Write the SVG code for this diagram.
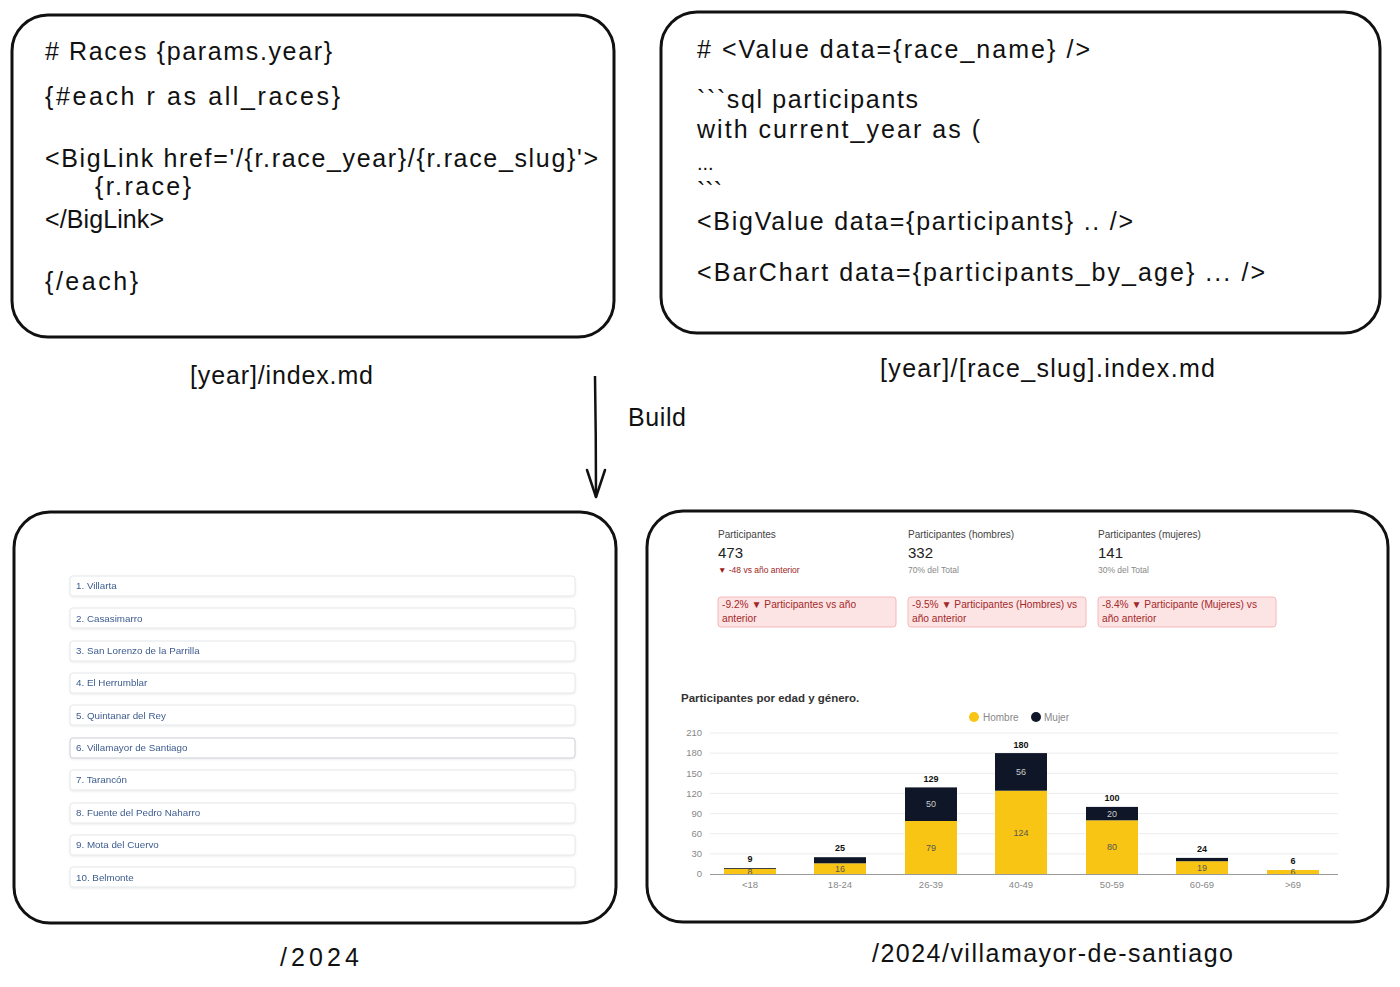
<svg xmlns="http://www.w3.org/2000/svg" width="1400" height="987" viewBox="0 0 1400 987">
<style>
.frame{fill:#fff;stroke:#111;stroke-width:3}
.hw{font-family:"Liberation Sans",Arial,sans-serif;font-size:25px;fill:#111}
.lbl{font-family:"Liberation Sans",Arial,sans-serif;font-size:25px;fill:#111}
.item rect{fill:#fff;stroke:#e3e6ea;stroke-width:1}
.item text{font-family:"Liberation Sans",Arial,sans-serif;font-size:9.8px;fill:#3d5c8f}
.kt{font-family:"Liberation Sans",Arial,sans-serif;font-size:10px;fill:#444}
.kv{font-family:"Liberation Sans",Arial,sans-serif;font-size:15px;fill:#222}
.ks{font-family:"Liberation Sans",Arial,sans-serif;font-size:8.5px;fill:#888}
.kd{font-family:"Liberation Sans",Arial,sans-serif;font-size:8.5px;fill:#9b1c1c}
.pill{fill:#fde4e4;stroke:#f4b8b8;stroke-width:1}
.pt{font-family:"Liberation Sans",Arial,sans-serif;font-size:10.2px;fill:#a3282a}
.ax{font-family:"Liberation Sans",Arial,sans-serif;font-size:9.5px;fill:#888}
.grid{stroke:#ececec;stroke-width:1}
.hb{fill:#f8c514}
.mj{fill:#0f1628}
.tot{font-family:"Liberation Sans",Arial,sans-serif;font-size:9px;font-weight:bold;fill:#111;text-anchor:middle}
.inh{font-family:"Liberation Sans",Arial,sans-serif;font-size:9px;fill:#555;text-anchor:middle}
.inm{font-family:"Liberation Sans",Arial,sans-serif;font-size:9px;fill:#ccc;text-anchor:middle}
</style>
<defs>
<filter id="sh" x="-5%" y="-50%" width="110%" height="200%"><feDropShadow dx="0" dy="1" stdDeviation="1" flood-color="#000" flood-opacity="0.08"/></filter>
</defs>

<g id="node-index-md">
<rect class="frame" x="12" y="15" width="602" height="322" rx="36"/>
<text class="hw" x="45" y="60" textLength="287">#  Races {params.year}</text>
<text class="hw" x="45" y="105" textLength="295">{#each r as all_races}</text>
<text class="hw" x="45" y="167" textLength="553">&lt;BigLink href='/{r.race_year}/{r.race_slug}'&gt;</text>
<text class="hw" x="95" y="195" textLength="96">{r.race}</text>
<text class="hw" x="45" y="228" textLength="119">&lt;/BigLink&gt;</text>
<text class="hw" x="45" y="290" textLength="93">{/each}</text>
</g>

<g id="node-race-slug-md">
<rect class="frame" x="661" y="12" width="719" height="321" rx="36"/>
<text class="hw" x="697" y="58" textLength="393">#  &lt;Value data={race_name} /&gt;</text>
<text class="hw" x="697" y="108" textLength="221">```sql participants</text>
<text class="hw" x="697" y="138" textLength="283">with current_year as (</text>
<text class="hw" x="697" y="170" style="font-size:20px">...</text>
<text class="hw" x="697" y="200">```</text>
<text class="hw" x="697" y="230" textLength="436">&lt;BigValue data={participants} .. /&gt;</text>
<text class="hw" x="697" y="281" textLength="568">&lt;BarChart data={participants_by_age} ... /&gt;</text>
</g>

<g id="label-index-md"><text class="lbl" x="190" y="384" textLength="183">[year]/index.md</text></g>
<g id="label-race-slug-md"><text class="lbl" x="880" y="377" textLength="335">[year]/[race_slug].index.md</text></g>
<g id="label-build"><text class="lbl" x="628" y="426" textLength="58">Build</text></g>

<g id="connectors">
<path d="M595 376 Q596 436 596 497" fill="none" stroke="#111" stroke-width="2.5"/>
<path d="M587 470 L596 497 L605 470" fill="none" stroke="#111" stroke-width="2.5" stroke-linejoin="round" stroke-linecap="round"/>
</g>

<g id="node-2024">
<rect class="frame" x="14" y="512" width="602" height="411" rx="36"/>
<g class="item" filter="url(#sh)">
<rect x="70" y="576" width="505" height="20" rx="3"/><text x="76" y="589">1. Villarta</text>
<rect x="70" y="608" width="505" height="20" rx="3"/><text x="76" y="622">2. Casasimarro</text>
<rect x="70" y="641" width="505" height="20" rx="3"/><text x="76" y="654">3. San Lorenzo de la Parrilla</text>
<rect x="70" y="673" width="505" height="20" rx="3"/><text x="76" y="686">4. El Herrumblar</text>
<rect x="70" y="705" width="505" height="20" rx="3"/><text x="76" y="719">5. Quintanar del Rey</text>
<rect x="70" y="738" width="505" height="20" rx="3" style="stroke:#c9cdd3"/><text x="76" y="751">6. Villamayor de Santiago</text>
<rect x="70" y="770" width="505" height="20" rx="3"/><text x="76" y="783">7. Tarancón</text>
<rect x="70" y="803" width="505" height="20" rx="3"/><text x="76" y="816">8. Fuente del Pedro Naharro</text>
<rect x="70" y="835" width="505" height="20" rx="3"/><text x="76" y="848">9. Mota del Cuervo</text>
<rect x="70" y="867" width="505" height="20" rx="3"/><text x="76" y="881">10. Belmonte</text>
</g>
</g>
<g id="label-2024"><text class="lbl" x="280" y="966" textLength="79">/2024</text></g>

<g id="node-villamayor">
<rect class="frame" x="647" y="511" width="741" height="411" rx="36"/>
<text class="kt" x="718" y="538">Participantes</text>
<text class="kv" x="718" y="558">473</text>
<text class="kd" x="718" y="573">▼ -48 vs año anterior</text>
<text class="kt" x="908" y="538">Participantes (hombres)</text>
<text class="kv" x="908" y="558">332</text>
<text class="ks" x="908" y="573">70% del Total</text>
<text class="kt" x="1098" y="538">Participantes (mujeres)</text>
<text class="kv" x="1098" y="558">141</text>
<text class="ks" x="1098" y="573">30% del Total</text>
<rect class="pill" x="718" y="597" width="178" height="30" rx="3"/>
<text class="pt" x="722" y="608">-9.2% ▼ Participantes vs año</text><text class="pt" x="722" y="622">anterior</text>
<rect class="pill" x="908" y="597" width="178" height="30" rx="3"/>
<text class="pt" x="912" y="608">-9.5% ▼ Participantes (Hombres) vs</text><text class="pt" x="912" y="622">año anterior</text>
<rect class="pill" x="1098" y="597" width="178" height="30" rx="3"/>
<text class="pt" x="1102" y="608">-8.4% ▼ Participante (Mujeres) vs</text><text class="pt" x="1102" y="622">año anterior</text>

<text x="681" y="702" style="font-family:'Liberation Sans',Arial,sans-serif;font-size:11.5px;font-weight:bold;fill:#333">Participantes por edad y género.</text>
<circle cx="974" cy="717" r="5" class="hb"/><text class="ax" x="983" y="720.5" style="font-size:10px">Hombre</text>
<circle cx="1036" cy="717" r="5" class="mj"/><text class="ax" x="1044" y="720.5" style="font-size:10px">Mujer</text>

<g text-anchor="end">
<text class="ax" x="702" y="736">210</text>
<text class="ax" x="702" y="756">180</text>
<text class="ax" x="702" y="777">150</text>
<text class="ax" x="702" y="797">120</text>
<text class="ax" x="702" y="817">90</text>
<text class="ax" x="702" y="837">60</text>
<text class="ax" x="702" y="857">30</text>
<text class="ax" x="702" y="877">0</text>
</g>
<line class="grid" x1="710" y1="733" x2="1338" y2="733"/>
<line class="grid" x1="710" y1="753.1" x2="1338" y2="753.1"/>
<line class="grid" x1="710" y1="773.3" x2="1338" y2="773.3"/>
<line class="grid" x1="710" y1="793.4" x2="1338" y2="793.4"/>
<line class="grid" x1="710" y1="813.6" x2="1338" y2="813.6"/>
<line class="grid" x1="710" y1="833.7" x2="1338" y2="833.7"/>
<line class="grid" x1="710" y1="853.9" x2="1338" y2="853.9"/>

<rect class="hb" x="724" y="868.6" width="52" height="5.4"/>
<rect class="mj" x="724" y="868" width="52" height="0.8"/>
<text class="tot" x="750" y="862">9</text>
<text class="inh" x="750" y="874.5">8</text>
<rect class="hb" x="814" y="863.3" width="52" height="10.7"/>
<rect class="mj" x="814" y="857.2" width="52" height="6.1"/>
<text class="tot" x="840" y="851">25</text>
<text class="inh" x="840" y="871.8">16</text>
<rect class="hb" x="905" y="821" width="52" height="53"/>
<rect class="mj" x="905" y="787.4" width="52" height="33.6"/>
<text class="tot" x="931" y="781.5">129</text>
<text class="inh" x="931" y="850.5">79</text>
<text class="inm" x="931" y="807.3">50</text>
<rect class="hb" x="995" y="790.7" width="52" height="83.3"/>
<rect class="mj" x="995" y="753.1" width="52" height="37.6"/>
<text class="tot" x="1021" y="747.5">180</text>
<text class="inh" x="1021" y="835.5">124</text>
<text class="inm" x="1021" y="775">56</text>
<rect class="hb" x="1086" y="820.3" width="52" height="53.7"/>
<rect class="mj" x="1086" y="806.9" width="52" height="13.4"/>
<text class="tot" x="1112" y="801">100</text>
<text class="inh" x="1112" y="850.2">80</text>
<text class="inm" x="1112" y="816.8">20</text>
<rect class="hb" x="1176" y="861.2" width="52" height="12.8"/>
<rect class="mj" x="1176" y="857.9" width="52" height="3.3"/>
<text class="tot" x="1202" y="852">24</text>
<text class="inh" x="1202" y="870.8">19</text>
<rect class="hb" x="1267" y="870" width="52" height="4"/>
<text class="tot" x="1293" y="864">6</text>
<text class="inh" x="1293" y="875">6</text>

<line x1="710" y1="874.5" x2="1338" y2="874.5" stroke="#999" stroke-width="1"/>
<g text-anchor="middle">
<text class="ax" x="750" y="888">&lt;18</text>
<text class="ax" x="840" y="888">18-24</text>
<text class="ax" x="931" y="888">26-39</text>
<text class="ax" x="1021" y="888">40-49</text>
<text class="ax" x="1112" y="888">50-59</text>
<text class="ax" x="1202" y="888">60-69</text>
<text class="ax" x="1293" y="888">&gt;69</text>
</g>
</g>
<g id="label-villamayor"><text class="lbl" x="872" y="962" textLength="361">/2024/villamayor-de-santiago</text></g>
</svg>
